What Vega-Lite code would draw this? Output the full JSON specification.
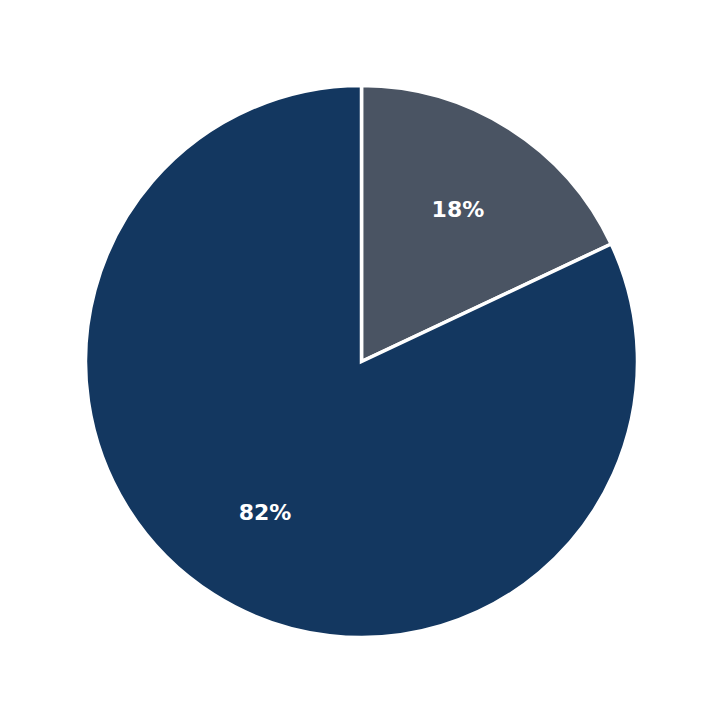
{
  "$schema": "https://vega.github.io/schema/vega-lite/v6.json",
  "width": 723, "height": 723,
  "autosize": {"type": "fit", "contains": "padding"},
  "padding": 0,
  "background": "white",
  "data": {"values": [
    {"group": "A", "share": 18, "label": "18%", "rank": 1},
    {"group": "B", "share": 82, "label": "82%", "rank": 2}
  ]},
  "encoding": {
    "theta": {"field": "share", "type": "quantitative", "stack": true},
    "order": {"field": "rank", "type": "ordinal"},
    "color": {
      "field": "group", "type": "nominal",
      "scale": {"domain": ["A", "B"], "range": ["#4a5463", "#133760"]},
      "legend": null
    }
  },
  "layer": [
    {"mark": {"type": "arc", "outerRadius": 276, "stroke": "white", "strokeWidth": 3.5}},
    {
      "mark": {"type": "text", "radius": 180, "font": "DejaVu Sans", "fontSize": 22, "fontWeight": "bold", "fill": "white"},
      "encoding": {"text": {"field": "label"}, "color": {"value": "white"}}
    }
  ],
  "config": {"view": {"stroke": null}}
}
